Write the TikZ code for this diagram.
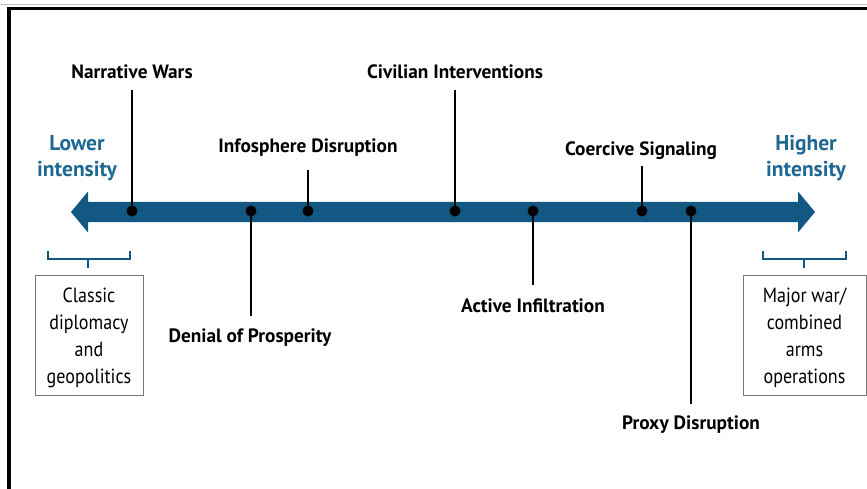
\documentclass[tikz,border=0pt]{standalone}
\usepackage{fontspec}
\setmainfont{PT Sans}
\newfontfamily\boxfont{PT Sans}[FakeStretch=0.88]
\definecolor{axisblue}{RGB}{18,88,130}
\definecolor{labelblue}{RGB}{30,104,146}
\definecolor{boxgray}{RGB}{120,120,120}
\begin{document}
\begin{tikzpicture}[x=1pt,y=-1pt,
  event/.style={font=\bfseries\fontsize{19.3}{22}\selectfont, inner sep=0pt, anchor=center},
  endlabel/.style={font=\bfseries\fontsize{21.5}{26}\selectfont, text=labelblue, align=center, inner sep=0pt},
  rangebox/.style={draw=boxgray, line width=0.8pt, minimum width=108pt, minimum height=120pt, inner sep=0pt, font=\boxfont\fontsize{20.5}{27}\selectfont},
  tick/.style={line width=2.6pt, black},
  dot/.style={circle, fill=black, minimum size=11pt, inner sep=0pt},
  brace/.style={draw=axisblue, line width=2pt}]
\useasboundingbox (0,0) rectangle (867,489);
\fill[white] (0,0) rectangle (867,489);
% outer frame
\draw[gray!50, line width=1pt] (0,5) -- (867,5);
\draw[black, line width=3.5pt] (9,489) -- (9,8.5) -- (867,8.5);
% intensity axis (double-headed block arrow)
\fill[axisblue] (71,212) -- (88,191.5) -- (88,202) -- (798,202) -- (798,191.5)
  -- (815,212) -- (798,232.5) -- (798,222) -- (88,222) -- (88,232.5) -- cycle;
% end labels
\node[endlabel] (low) at (77,158) {Lower\\intensity};
\node[endlabel] (high) at (806,158) {Higher\\intensity};
% points on the axis
\node[dot] (pNar) at (132,211) {};
\node[dot] (pDen) at (251,211) {};
\node[dot] (pInf) at (308,211) {};
\node[dot] (pCiv) at (455,211) {};
\node[dot] (pAct) at (533,211) {};
\node[dot] (pCoe) at (642,211) {};
\node[dot] (pPro) at (691,211) {};
% leader ends
\coordinate (eNar) at (132,90);
\coordinate (eDen) at (251,316);
\coordinate (eInf) at (308,170);
\coordinate (eCiv) at (455,90);
\coordinate (eAct) at (533,285);
\coordinate (eCoe) at (642,166);
\coordinate (ePro) at (691,404);
\foreach \p in {Nar,Den,Inf,Civ,Act,Coe,Pro}
  \draw[tick] (p\p.center) -- (e\p);
% event labels
\node[event] (tNar) at (132,72) {Narrative Wars};
\node[event] (tInf) at (308,148) {Infosphere Disruption};
\node[event] (tCiv) at (455,72) {Civilian Interventions};
\node[event] (tCoe) at (641,151) {Coercive Signaling};
\node[event] (tDen) at (250,338) {Denial of Prosperity};
\node[event] (tAct) at (533,306) {Active Infiltration};
\node[event] (tPro) at (691,425) {Proxy Disruption};
% range braces and boxes
\draw[brace] (48,251) -- (48,259) -- (130,259) -- (130,251);
\draw[brace] (88,259) -- (88,268);
\draw[brace] (763,251) -- (763,259) -- (846,259) -- (846,251);
\draw[brace] (804,259) -- (804,268);
\node[rangebox] (bLow) at (89,335) {\parbox{100pt}{\centering\vspace*{6pt}Classic\\diplomacy\\and\\geopolitics}};
\node[rangebox, minimum width=123pt] (bHigh) at (804.5,335) {\parbox{115pt}{\centering\vspace*{6pt}Major war/\\combined\\arms\\operations}};
\end{tikzpicture}
\end{document}
